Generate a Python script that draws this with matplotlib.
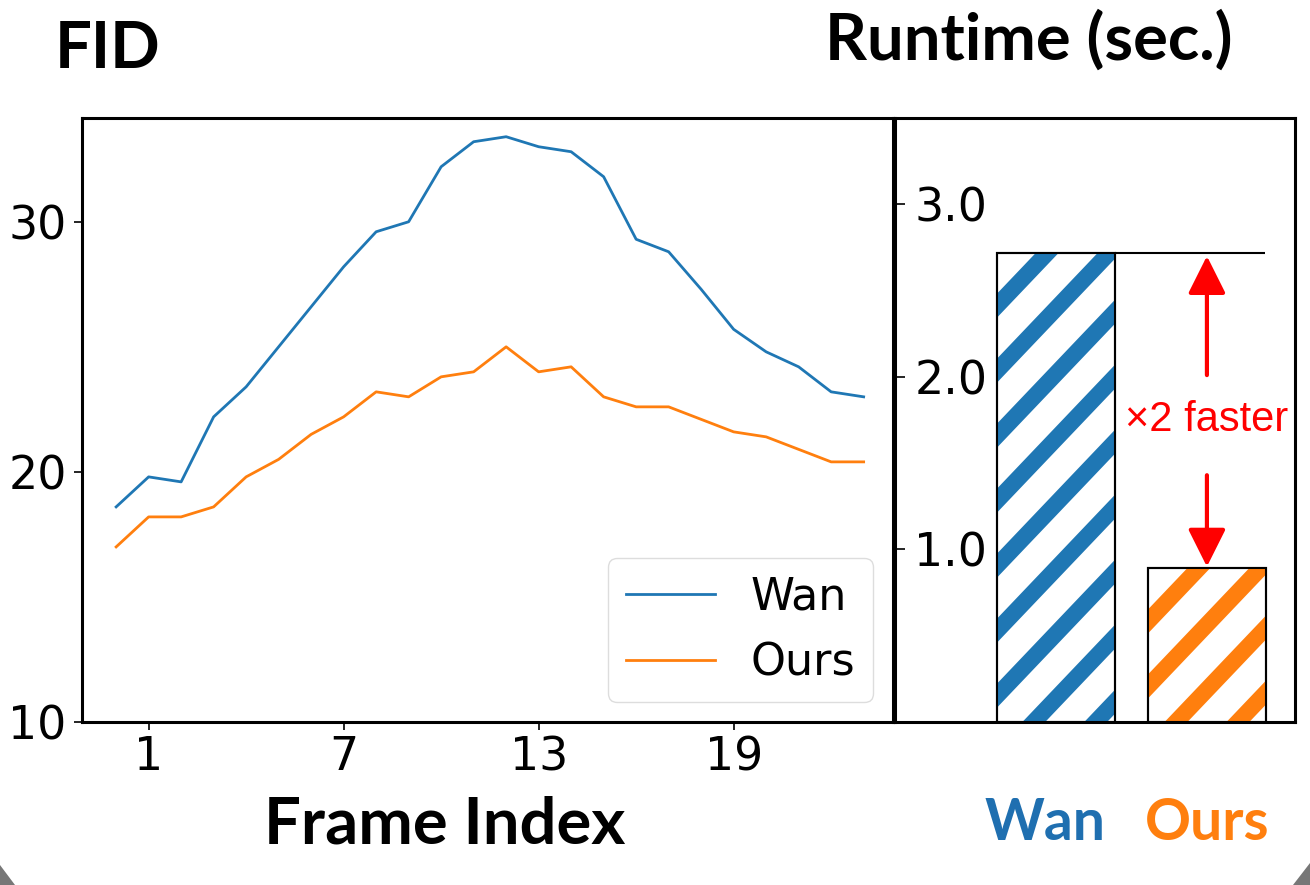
import numpy as np
import matplotlib
matplotlib.use('Agg')
import matplotlib.pyplot as plt
from matplotlib.patches import Polygon

# ===================== DATA =====================
frames = list(range(24))
fid_wan = [18.6, 19.8, 19.6, 22.2, 23.4, 25.0, 26.6, 28.2, 29.6, 30.0, 32.2, 33.2,
           33.4, 33.0, 32.8, 31.8, 29.3, 28.8, 27.3, 25.7, 24.8, 24.2, 23.2, 23.0]
fid_ours = [17.0, 18.2, 18.2, 18.6, 19.8, 20.5, 21.5, 22.2, 23.2, 23.0, 23.8, 24.0,
            25.0, 24.0, 24.2, 23.0, 22.6, 22.6, 22.1, 21.6, 21.4, 20.9, 20.4, 20.4]
frame_ticks = [1, 7, 13, 19]
fid_ticks = [10, 20, 30]

methods = ['Wan', 'Ours']
runtime = [2.72, 0.89]
runtime_ticks = [1.0, 2.0, 3.0]

BLUE = '#1f77b4'
ORANGE = '#ff7f0e'
TITLE_FONT = 'Lato'
plt.rcParams['font.family'] = ['DejaVu Sans']

fig = plt.figure(figsize=(13.1, 8.85), dpi=100)

# ===================== FID (kiri) =====================
ax = fig.add_axes([0.0626, 0.1842, 0.619, 0.6825])
ax.plot(frames, fid_wan, color=BLUE, lw=2, label='Wan')
ax.plot(frames, fid_ours, color=ORANGE, lw=2, label='Ours')
ax.set_xlim(-1.05, 23.9)
ax.set_ylim(10, 34.15)
ax.set_xticks(frame_ticks)
ax.set_yticks(fid_ticks)
ax.tick_params(labelsize=33, length=6, width=1.2)
ax.tick_params(axis='y', pad=5)
for s in ax.spines.values():
    s.set_linewidth(2.2)
ax.legend(loc='lower right', fontsize=32, handlelength=2.0, framealpha=1,
          edgecolor='#dddddd', borderaxespad=0.45)

# ===================== RUNTIME (kanan) =====================
ax2 = fig.add_axes([0.6832, 0.1842, 0.3053, 0.6825])
ax2.set_xlim(-1.066, 1.583)
ax2.set_ylim(0, 3.5)
bars = ax2.bar([0, 1], runtime, width=0.78, color='white', edgecolor='black',
               linewidth=1.5, zorder=3)
ax2.set_xticks([])
ax2.set_yticks(runtime_ticks)
ax2.set_yticklabels([f'{v:.1f}' for v in runtime_ticks])
ax2.tick_params(axis='y', direction='in', length=7, width=1.2, labelsize=33, pad=-14)
for lbl in ax2.get_yticklabels():
    lbl.set_horizontalalignment('left')
for s in ax2.spines.values():
    s.set_linewidth(2.2)

# garis miring tebal di dalam bar (pengganti hatch)
fig.canvas.draw()
to_data = ax2.transData.inverted()
period, thick, slope = 65, 24, 1.05
for bar, col in zip(bars, [BLUE, ORANGE]):
    (x0, y0), (x1, y1) = ax2.transData.transform(
        [(bar.get_x(), 0), (bar.get_x() + bar.get_width(), bar.get_height())])
    w = x1 - x0
    c = y1
    while c > y0 - slope * w - period:
        pts = [(x0, c), (x1, c + slope * w), (x1, c + slope * w + thick), (x0, c + thick)]
        poly = Polygon(to_data.transform(pts), closed=True, facecolor=col,
                       edgecolor='none', zorder=3.5)
        ax2.add_patch(poly)
        poly.set_clip_path(bar)
        c -= period
    # garis tepi di atas garis miring
    ax2.add_patch(plt.Rectangle((bar.get_x(), 0), bar.get_width(), bar.get_height(),
                                fill=False, edgecolor='black', lw=1.5, zorder=4))

# garis referensi & panah
ax2.hlines(runtime[0], 0.39, 1.385, color='black', lw=1.5, zorder=4)
arrow = dict(arrowstyle='-|>,head_length=0.4,head_width=0.2', color='red', lw=3,
             mutation_scale=58, shrinkA=0, shrinkB=0)
ax2.annotate('', xy=(1, runtime[0] - 0.02), xytext=(1, 2.01), arrowprops=arrow)
ax2.annotate('', xy=(1, runtime[1] + 0.01), xytext=(1, 1.43), arrowprops=arrow)
ax2.text(1.0, 1.75, '×2 faster', color='red', fontsize=30, ha='center', va='center',
         family=['Liberation Sans', 'DejaVu Sans'])

# ===================== TEKS JUDUL =====================
fig.text(0.042, 1 - 68 / 885, 'FID', fontsize=47, fontweight='bold',
         family=TITLE_FONT, va='baseline', ha='left')
fig.text(0.63, 1 - 60 / 885, 'Runtime (sec.)', fontsize=47, fontweight='bold',
         family=TITLE_FONT, va='baseline', ha='left')
fig.text(445 / 1310, 1 - 843 / 885, 'Frame Index', fontsize=47, fontweight='bold',
         family=TITLE_FONT, va='baseline', ha='center')
fig.text(1045 / 1310, 1 - 840 / 885, methods[0], fontsize=41, fontweight='bold',
         family=TITLE_FONT, va='baseline', ha='center', color='#1f6fb0')
fig.text(1207 / 1310, 1 - 840 / 885, methods[1], fontsize=41, fontweight='bold',
         family=TITLE_FONT, va='baseline', ha='center', color=ORANGE)

# sudut abu-abu di bawah
fig.patches.append(Polygon([(0, 0), (0, 20 / 885), (15 / 1310, 0)], closed=True,
                           transform=fig.transFigure, facecolor='#777777', edgecolor='none'))
fig.patches.append(Polygon([(1, 0), (1, 22 / 885), (1 - 17 / 1310, 0)], closed=True,
                           transform=fig.transFigure, facecolor='#777777', edgecolor='none'))

plt.savefig('out.png', dpi=100)
